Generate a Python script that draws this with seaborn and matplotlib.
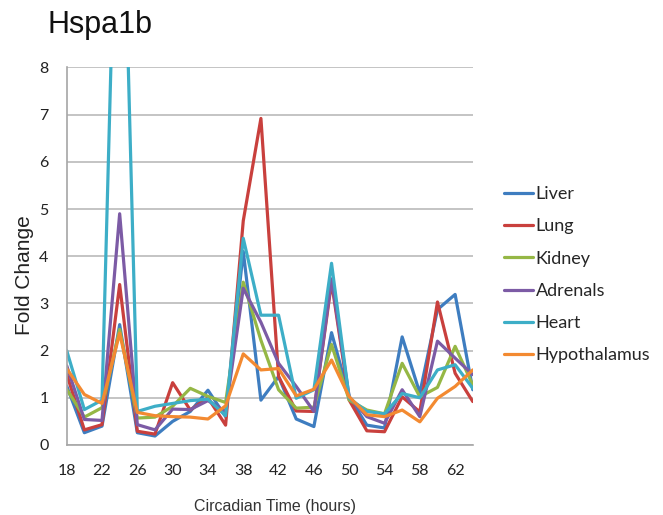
import matplotlib
matplotlib.use("Agg")
import matplotlib.pyplot as plt
import seaborn as sns
import pandas as pd

# circadian sampling times (hours)
hours = list(range(18, 65, 2))

liver = [1.25, 0.26, 0.4, 2.55, 0.26, 0.19, 0.5, 0.71, 1.16, 0.6, 4.1, 0.95,
         1.45, 0.55, 0.39, 2.38, 1.02, 0.42, 0.36, 2.29, 1.1, 2.87, 3.19, 1.17]
lung = [1.5, 0.32, 0.43, 3.4, 0.29, 0.23, 1.32, 0.74, 1.0, 0.42, 4.75, 6.92,
        1.45, 0.72, 0.71, 3.45, 0.95, 0.3, 0.28, 1.02, 0.7, 3.03, 1.52, 0.92]
kidney = [1.18, 0.59, 0.79, 2.45, 0.57, 0.59, 0.82, 1.2, 1.03, 0.9, 3.45, 2.22,
          1.17, 0.78, 0.8, 2.13, 0.95, 0.74, 0.66, 1.73, 1.02, 1.22, 2.09, 1.27]
adrenals = [1.68, 0.54, 0.52, 4.9, 0.43, 0.32, 0.76, 0.75, 0.94, 0.7, 3.32, 2.6,
            1.73, 1.24, 0.71, 3.52, 1.02, 0.6, 0.46, 1.17, 0.6, 2.2, 1.84, 1.49]
heart = [2.0, 0.75, 0.95, 15.0, 0.71, 0.82, 0.88, 0.94, 0.97, 0.62, 4.38, 2.75,
         2.75, 0.99, 1.17, 3.85, 0.99, 0.71, 0.66, 1.09, 1.0, 1.59, 1.7, 1.2]
hypothalamus = [1.62, 1.07, 0.88, 2.37, 0.69, 0.62, 0.6, 0.59, 0.55, 0.83, 1.93, 1.59,
                1.62, 1.04, 1.18, 1.8, 1.02, 0.64, 0.6, 0.74, 0.49, 0.99, 1.24, 1.59]

tissues = ["Liver", "Lung", "Kidney", "Adrenals", "Heart", "Hypothalamus"]
colors = ["#3E7DC0", "#C9403D", "#95B745", "#7C5BA5", "#3DAEC7", "#F38A31"]

df = pd.DataFrame({"Hour": hours, "Liver": liver, "Lung": lung, "Kidney": kidney,
                   "Adrenals": adrenals, "Heart": heart, "Hypothalamus": hypothalamus})
df = df.melt(id_vars="Hour", var_name="Tissue", value_name="Fold Change")

sns.set_style("white")

fig = plt.figure(figsize=(6.63, 5.15), dpi=100)
ax = fig.add_axes([0.1006, 0.136, 0.6125, 0.733])

sns.lineplot(data=df, x="Hour", y="Fold Change", hue="Tissue", hue_order=tissues,
             palette=colors, linewidth=2.3, estimator=None, ax=ax)

ax.set_xlim(18, 64)
ax.set_ylim(0, 8)
ax.set_xticks(range(18, 63, 4))
ax.set_yticks(range(0, 9))
ax.set_xlabel("")
ax.set_ylabel("")

ax.grid(axis="y", color="#C4C4C4", linewidth=1.4)
ax.grid(axis="x", visible=False)
ax.set_axisbelow(True)
for side in ["top", "right"]:
    ax.spines[side].set_visible(False)
for side in ["left", "bottom"]:
    ax.spines[side].set_color("#A6A6A6")
    ax.spines[side].set_linewidth(1.2)

ax.tick_params(axis="both", direction="out", length=5, width=1.2, color="#A6A6A6",
               labelsize=11.5, labelcolor="#222222")
ax.tick_params(axis="x", pad=9)
ax.tick_params(axis="y", pad=8)
for lab in ax.get_xticklabels() + ax.get_yticklabels():
    lab.set_family("Lato")

# title and axis titles
fig.text(0.071, 0.951, "Hspa1b", fontsize=22, family="Liberation Sans",
         va="center", ha="left", color="#111111")
fig.text(25 / 663, 1 - 275 / 515, "Fold Change", rotation=90, fontsize=15,
         family="Liberation Sans", ha="center", va="center", color="#222222")
fig.text(275 / 663, 1 - 507 / 515, "Circadian Time (hours)", fontsize=11.5,
         family="Liberation Sans", ha="center", va="center", color="#333333")

handles, labels = ax.get_legend_handles_labels()
ax.legend(handles, labels, loc="upper left", bbox_to_anchor=(497 / 663, 1 - 179 / 515),
          bbox_transform=fig.transFigure, frameon=False,
          prop={"family": "Lato", "size": 13}, handlelength=1.6,
          handletextpad=0.15, labelspacing=0.9, borderaxespad=0)

fig.savefig("out.png", dpi=100)
